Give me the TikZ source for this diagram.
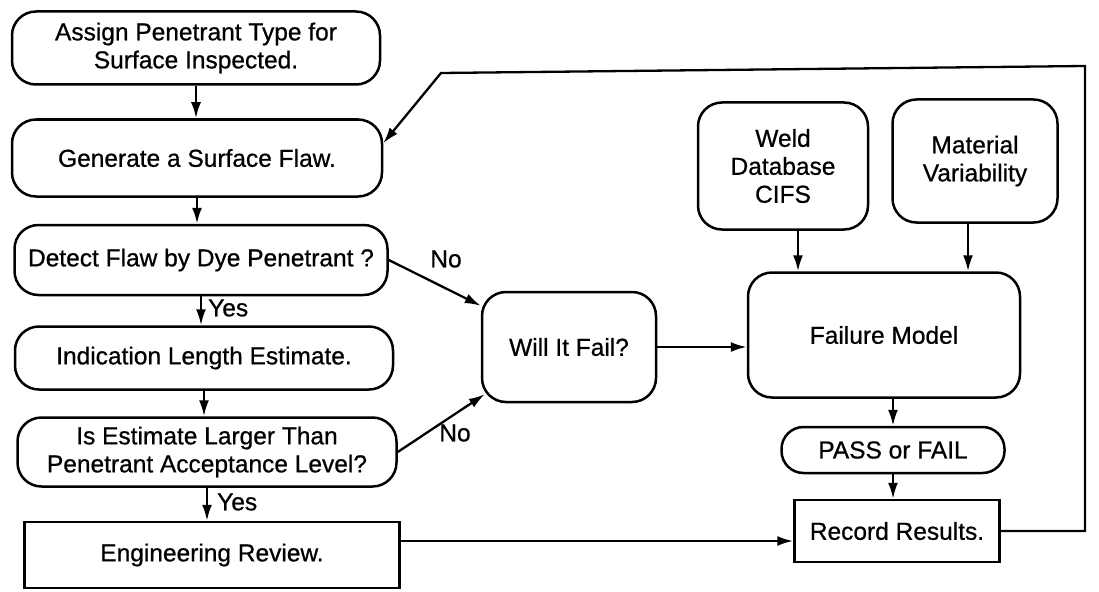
\documentclass[tikz,border=0pt]{standalone}
\usepackage{fontspec}
\setmainfont[UprightFeatures={FakeBold=0.7}]{Liberation Sans}
\usetikzlibrary{arrows.meta,calc}
\begin{document}
\begin{tikzpicture}[x=1pt,y=-1pt,
  every node/.style={font=\fontsize{24.5}{28}\selectfont},
  rbox/.style={draw,line width=2.5pt,rounded corners=24pt,align=center,inner sep=0pt},
  sbox/.style={draw,line width=2.5pt,align=center,inner sep=0pt},
  conn/.style={line width=2.3pt,-{Latex[length=16pt,width=10pt]}},
  lbl/.style={inner sep=0pt}]
\useasboundingbox (0,0) rectangle (1099,591);
\node[rbox,minimum width=368pt,minimum height=73pt] (b1) at (196,48) {Assign Penetrant Type for\\ Surface Inspected.};
\node[rbox,minimum width=370pt,minimum height=77pt] (b2) at (197,158) {Generate a Surface Flaw.};
\node[rbox,minimum width=373pt,minimum height=70pt] (b3) at (201,260) {Detect Flaw by Dye Penetrant ?};
\node[rbox,minimum width=378pt,minimum height=63pt] (b4) at (204,358) {Indication Length Estimate.};
\node[rbox,minimum width=379pt,minimum height=69pt] (b5) at (207,452) {Is Estimate Larger Than\\ Penetrant Acceptance Level?};
\node[sbox,minimum width=375pt,minimum height=66pt] (eng) at (212,555) {Engineering Review.};
\node[rbox,minimum width=174pt,minimum height=110pt] (will) at (569,347) {Will It Fail?};
\node[rbox,minimum width=272pt,minimum height=125pt] (fm) at (884,335) {Failure Model};
\node[rbox,minimum width=170pt,minimum height=127pt] (weld) at (783,166) {Weld\\ Database\\ CIFS};
\node[rbox,minimum width=165pt,minimum height=123pt] (mat) at (975,161) {Material\\ Variability};
\node[rbox,rounded corners=22pt,minimum width=223pt,minimum height=46pt] (pass) at (893,450) {PASS or FAIL};
\node[sbox,minimum width=205pt,minimum height=62pt] (rec) at (897,531) {Record Results.};

\draw[conn] (b1.south) -- (b1.south |- b2.north);
\draw[conn] (b2.south) -- (b2.south |- b3.north);
\draw[conn] (b3.south) -- (b3.south |- b4.north);
\draw[conn] (b4.south) -- (b4.south |- b5.north);
\draw[conn] (b5.south) -- (b5.south |- eng.north);
\node[lbl,anchor=west] (yes1) at (208,308) {Yes};
\node[lbl,anchor=west] (yes2) at (217,502) {Yes};

\coordinate (willA) at ($(will.north west)+(0,15)$);
\coordinate (willB) at ($(will.south west)+(4,-9)$);
\draw[conn] (b3.east) -- (willA);
\draw[conn] (b5.east) -- (willB);
\node[lbl] (no1) at (446,259) {No};
\node[lbl] (no2) at (455,433) {No};

\draw[conn] (will.east) -- (will.east -| fm.west);
\coordinate (weldOut) at ($(weld.south)+(15,0)$);
\coordinate (matOut) at ($(mat.south)+(-7,0)$);
\draw[conn] (weldOut) -- (weldOut |- fm.north);
\draw[conn] (matOut) -- (matOut |- fm.north);
\draw[conn] (pass.north |- fm.south) -- (pass.north);
\draw[conn] (pass.south) -- (pass.south |- rec.north);

\coordinate (recIn) at ($(rec.west)+(0,10)$);
\draw[conn] (eng.east |- recIn) -- (recIn);

\coordinate (fbA) at (1085,531);
\coordinate (fbB) at (1085,66);
\coordinate (fbC) at (441,73);
\coordinate (b2In) at ($(b2.north east)+(0,25)$);
\draw[conn] (rec.east) -- (fbA) -- (fbB) -- (fbC) -- (b2In);
\end{tikzpicture}
\end{document}
